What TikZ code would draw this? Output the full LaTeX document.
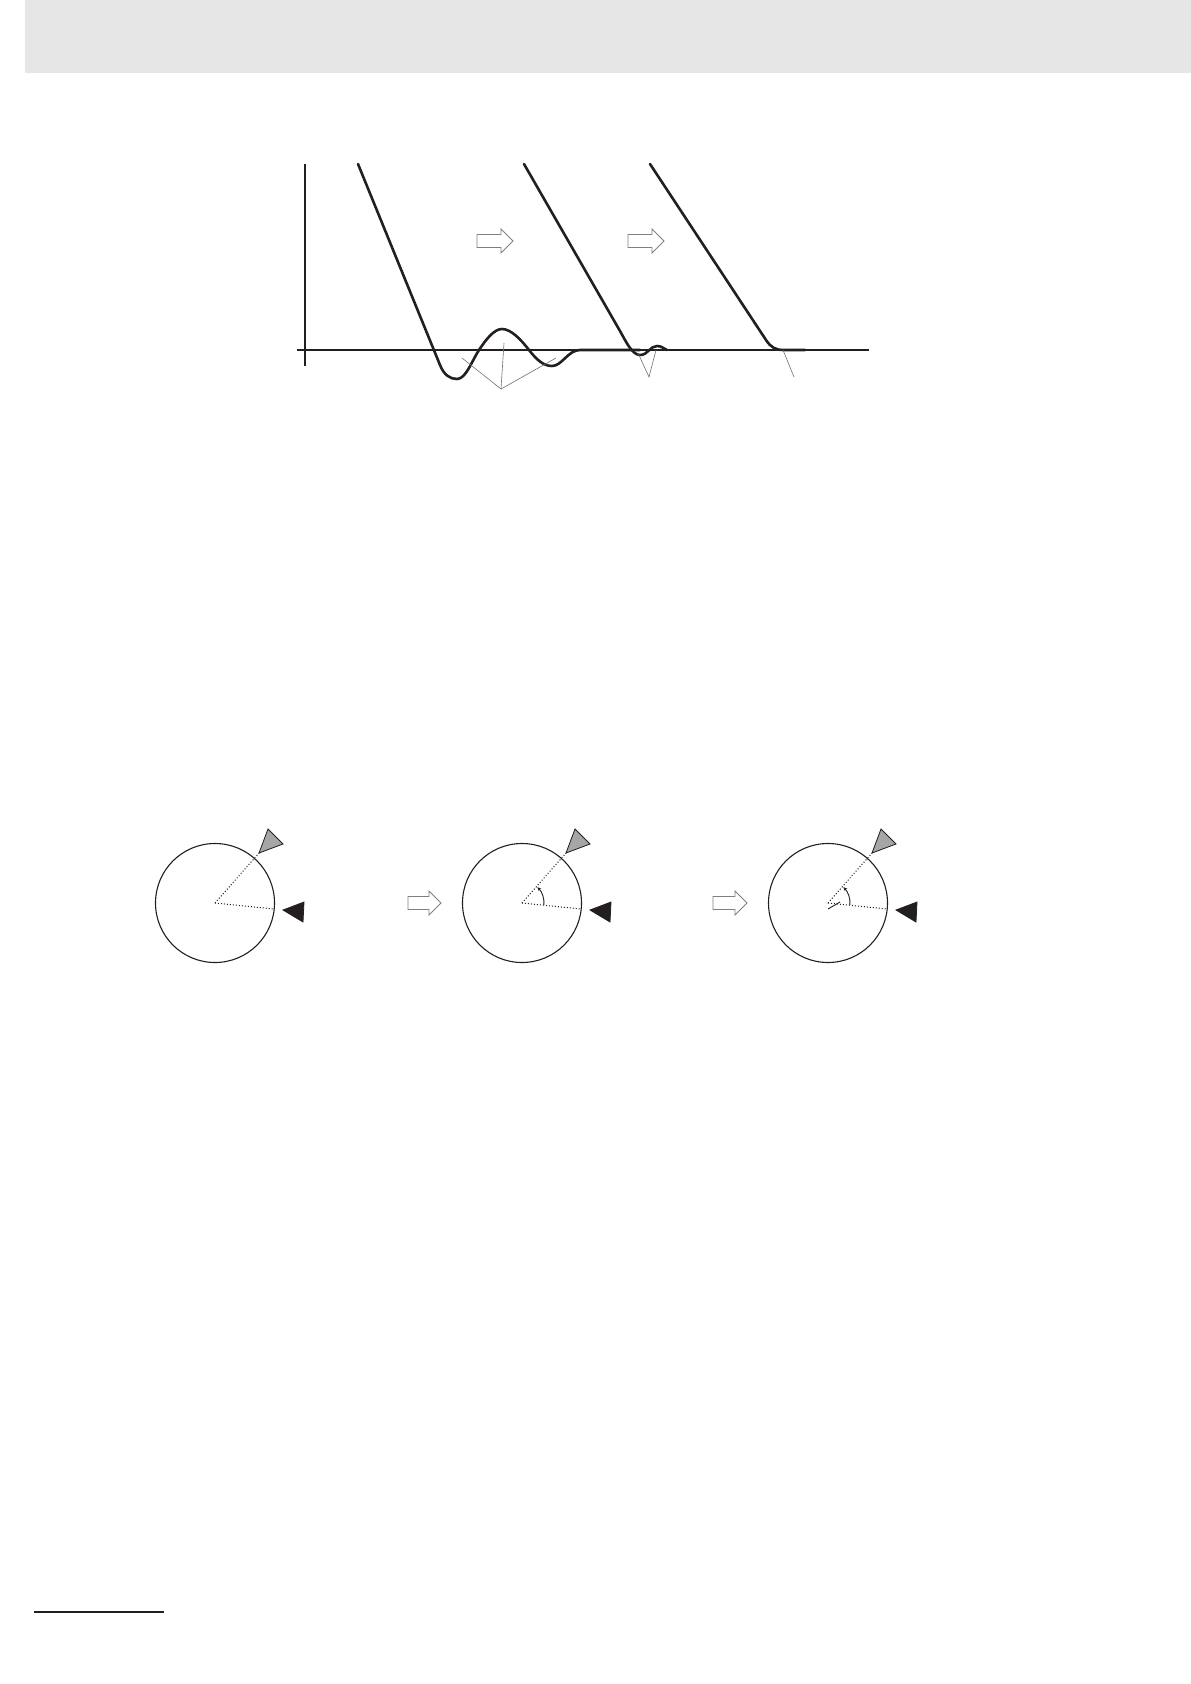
\documentclass[tikz,border=0pt]{standalone}
\usetikzlibrary{calc,arrows.meta}
\definecolor{ink}{HTML}{231F20}
\definecolor{hdr}{HTML}{E6E6E6}
\definecolor{tri}{HTML}{A6A6A6}
\definecolor{lead}{HTML}{707070}
\newcommand{\hollowarr}[4]{%
  \draw[hollow] (#1,#4-6.5) -- (#2,#4-6.5) -- (#2,#4-12) -- (#3,#4) -- (#2,#4+12) -- (#2,#4+6.5) -- (#1,#4+6.5) -- cycle;}
\begin{document}
\begin{tikzpicture}[x=1pt,y=-1pt,
  curve/.style={draw=ink, line width=2.6pt, line join=round, line cap=round},
  axis/.style={draw=ink, line width=1.3pt},
  leader/.style={draw=lead, line width=0.6pt},
  hollow/.style={draw=gray, line width=0.8pt, fill=white},
  dial/.style={circle, draw=ink, line width=1.1pt, minimum size=119pt, inner sep=0pt},
  ray/.style={draw=ink, dotted, line width=1pt},
  marker/.style={draw=ink, line width=0.8pt, line join=miter},
  anglearc/.style={draw=ink, line width=0.9pt, -{Stealth[length=4pt,width=3.5pt]}}]
\useasboundingbox (0,0) rectangle (1191,1684);
% header band
\fill[hdr] (25,0) rectangle (1191,73);
% axes
\coordinate (xl) at (297,350); \coordinate (xr) at (869,350);
\coordinate (yt) at (305,164); \coordinate (yb) at (305,366);
\draw[axis] (xl) -- (xr);
\draw[axis] (yt) -- (yb);
% response curves
\draw[curve] (358,164) -- (440,365)
  .. controls (444,375) and (450,379) .. (457,379)
  .. controls (466,379) and (472,360.5) .. (479,350)
  .. controls (486,339.5) and (494,329) .. (502,329)
  .. controls (511,329) and (521,339.6) .. (529,350)
  .. controls (537,360.4) and (544,366) .. (552,366)
  .. controls (562,366) and (568,350) .. (580,350) -- (640,350);
\draw[curve] (524,164) -- (620,331)
  .. controls (625.7,341) and (632,355) .. (640,355)
  .. controls (648,355) and (650,346) .. (657,346)
  .. controls (662,346) and (664,349) .. (667,350);
\draw[curve] (650,164) -- (766,340)
  .. controls (771.3,348) and (776,350) .. (784,350) -- (805,350);
% leader lines
\coordinate (l1) at (501,389);
\coordinate (l1a) at (462,358); \coordinate (l1b) at (504,343); \coordinate (l1c) at (556,358);
\draw[leader] (l1a) -- (l1) -- (l1c);
\draw[leader] (l1) -- (l1b);
\coordinate (l2) at (649,377);
\coordinate (l2a) at (638,353); \coordinate (l2b) at (656,350);
\draw[leader] (l2a) -- (l2) -- (l2b);
\coordinate (l3) at (794,377); \coordinate (l3a) at (783,350);
\draw[leader] (l3a) -- (l3);
% hollow arrows in graph
\hollowarr{477}{501}{513}{241}
\hollowarr{628}{652}{664}{241}
% dials
\node[dial] (d1) at (215,903) {};
\node[dial] (d2) at (522,903) {};
\node[dial] (d3) at (828,903) {};
\foreach \d in {d1,d2,d3}{
  \draw[ray] (\d.center) -- ++(44,-50);
  \draw[ray] (\d.center) -- ++(59,6);
  \filldraw[fill=tri, marker] ($(\d.center)+(44,-50)$) -- ++(9,-24) -- ++(15,15) -- cycle;
  \filldraw[fill=ink, marker] ($(\d.center)+(68,7)$) -- ++(21,-8) -- ++(-1,20) -- cycle;
}
\draw[anglearc] ($(d2.center)+(5:22)$) arc[start angle=5, end angle=-46, radius=22];
\draw[anglearc] ($(d3.center)+(5:22)$) arc[start angle=5, end angle=-46, radius=22];
\draw[ink, line width=0.9pt] ($(d3.center)+(0,6)$) -- ++(12,-7);
% hollow arrows between dials
\hollowarr{408}{429}{441}{903}
\hollowarr{713}{735}{747}{903}
% bottom rule
\coordinate (r1) at (34,1612); \coordinate (r2) at (164,1612);
\draw[ink, line width=2.3pt] (r1) -- (r2);
\end{tikzpicture}
\end{document}
